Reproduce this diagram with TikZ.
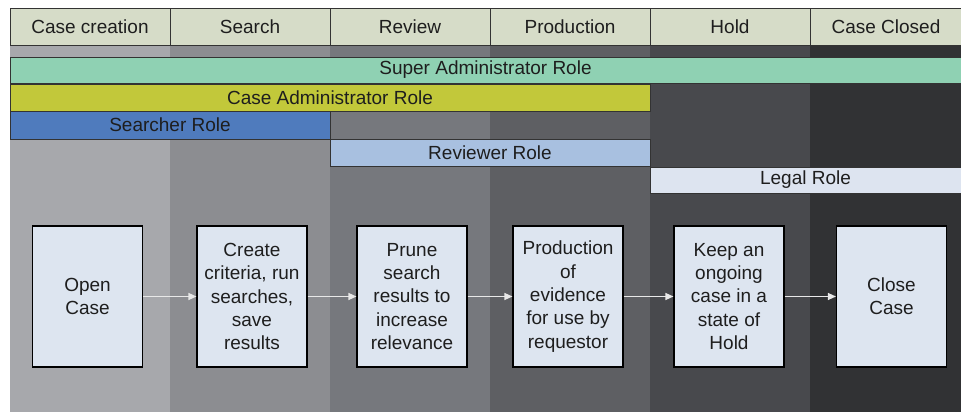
\documentclass[tikz,border=0pt]{standalone}
\usepackage{fontspec}
\setmainfont{Liberation Sans}
\usetikzlibrary{arrows.meta}
\definecolor{colA}{HTML}{A7A8AC}
\definecolor{colB}{HTML}{8C8D91}
\definecolor{colC}{HTML}{76787D}
\definecolor{colD}{HTML}{5E5F63}
\definecolor{colE}{HTML}{48494D}
\definecolor{colF}{HTML}{313234}
\definecolor{hdrfill}{HTML}{D6DCC8}
\definecolor{superfill}{HTML}{8FD1B3}
\definecolor{casefill}{HTML}{C2C83A}
\definecolor{searchfill}{HTML}{4F7BBD}
\definecolor{reviewfill}{HTML}{A8C0E0}
\definecolor{legalfill}{HTML}{DDE4F0}
\definecolor{boxfill}{HTML}{DDE5F0}
\definecolor{edgegray}{HTML}{333333}
\definecolor{arrowcol}{HTML}{E8E8E8}
\definecolor{txt}{HTML}{1E1E1E}
\tikzset{
  lbl/.style={font=\fontsize{19}{23.3}\selectfont, text=txt},
  hdr/.style={lbl, draw=edgegray, line width=0.9pt, fill=hdrfill, minimum height=37pt, inner sep=0pt},
  rolebar/.style={lbl, draw=edgegray, line width=0.8pt, inner sep=0pt},
  stepbox/.style={lbl, draw=black, line width=1.1pt, fill=boxfill, minimum width=110pt, minimum height=141pt, inner sep=0pt, align=center},
  arr/.style={draw=arrowcol, line width=1.2pt, -{Triangle[length=8pt,width=7pt]}}
}
\begin{document}
\begin{tikzpicture}[x=1pt,y=-1pt]
\useasboundingbox (0,0) rectangle (961,412);
\fill[white] (0,0) rectangle (961,412);
% column backgrounds
\fill[colA] (10,45) rectangle (170,412);
\fill[colB] (170,45) rectangle (330,412);
\fill[colC] (330,45) rectangle (490,412);
\fill[colD] (490,45) rectangle (650,412);
\fill[colE] (650,45) rectangle (810,412);
\fill[colF] (810,45) rectangle (961,412);
% headers
\node[hdr, minimum width=160pt] (h1) at (90,26.5) {Case creation};
\node[hdr, minimum width=160pt] (h2) at (250,26.5) {Search};
\node[hdr, minimum width=160pt] (h3) at (410,26.5) {Review};
\node[hdr, minimum width=160pt] (h4) at (570,26.5) {Production};
\node[hdr, minimum width=160pt] (h5) at (730,26.5) {Hold};
\node[hdr, minimum width=152pt] (h6) at (886,26.5) {Case Closed};
% role bars
\node[rolebar, fill=superfill, minimum width=951pt, minimum height=26pt] (rsuper) at (485.5,70) {Super Administrator Role};
\node[rolebar, fill=casefill, minimum width=640pt, minimum height=27pt] (rcase) at (330,97.5) {Case Administrator Role};
\node[rolebar, fill=searchfill, minimum width=320pt, minimum height=28pt] (rsearch) at (170,125) {Searcher Role};
\node[rolebar, fill=reviewfill, minimum width=320pt, minimum height=27pt] (rreview) at (490,152.5) {Reviewer Role};
\node[rolebar, fill=legalfill, minimum width=311pt, minimum height=26pt] (rlegal) at (805.5,180) {Legal Role};
% step boxes
\node[stepbox] (b1) at (87.5,296.5) {Open\\Case};
\node[stepbox] (b2) at (252,296.5) {Create\\criteria, run\\searches,\\save\\results};
\node[stepbox] (b3) at (412,296.5) {Prune\\search\\results to\\increase\\relevance};
\node[stepbox] (b4) at (568,296.5) {Production\\of\\evidence\\for use by\\requestor};
\node[stepbox] (b5) at (729,296.5) {Keep an\\ongoing\\case in a\\state of\\Hold};
\node[stepbox] (b6) at (891.5,296.5) {Close\\Case};
% arrows
\draw[arr] (b1) -- (b2);
\draw[arr] (b2) -- (b3);
\draw[arr] (b3) -- (b4);
\draw[arr] (b4) -- (b5);
\draw[arr] (b5) -- (b6);
\end{tikzpicture}
\end{document}
